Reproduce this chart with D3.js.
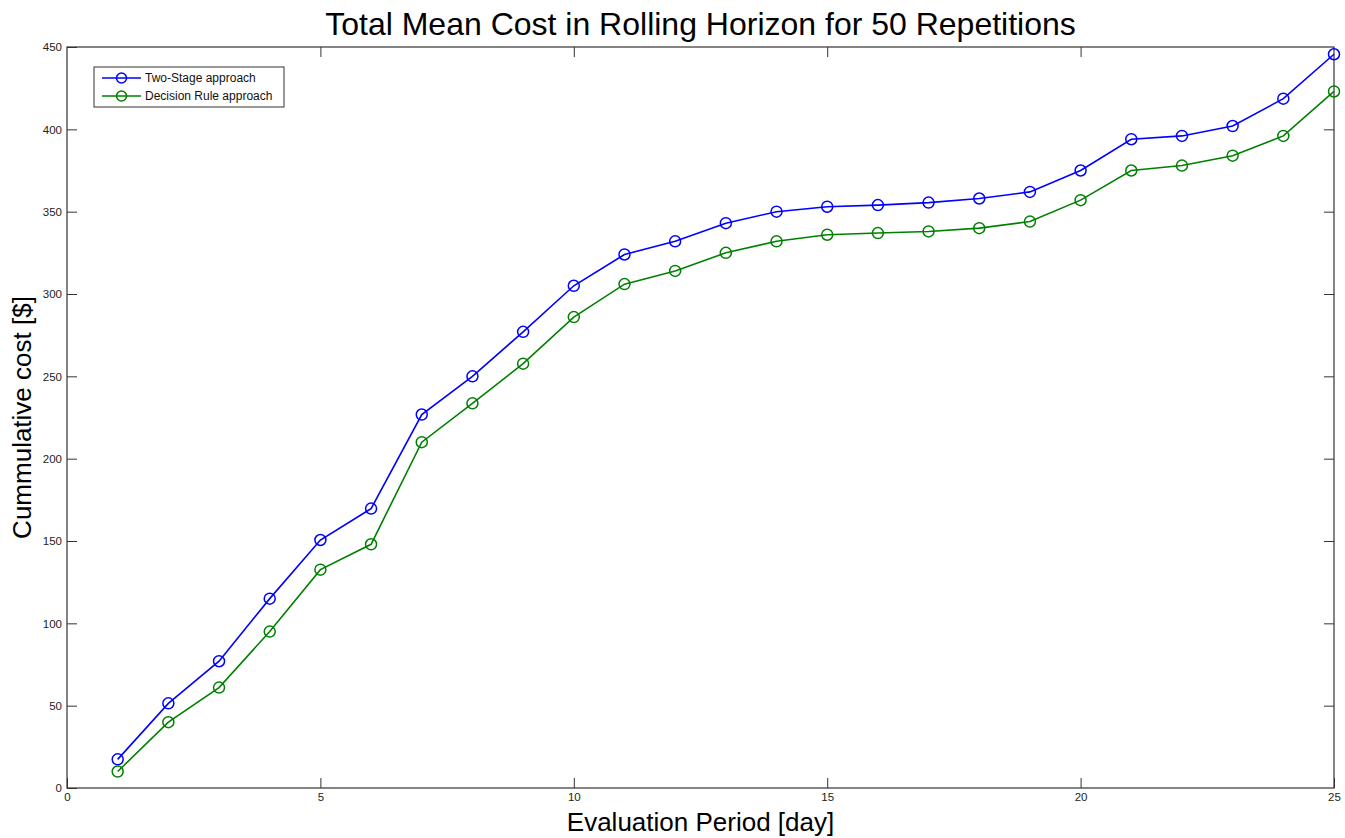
<!DOCTYPE html>
<html>
<head>
<meta charset="utf-8">
<script src="https://cdn.jsdelivr.net/npm/d3@7"></script>
<style>
  body { margin: 0; background: #fff; }
  text { font-family: "Liberation Sans", Arial, sans-serif; }
</style>
</head>
<body>
<div id="chart"></div>
<script>
const width = 1345;
const height = 838;

// data
const days = [1,2,3,4,5,6,7,8,9,10,11,12,13,14,15,16,17,18,19,20,21,22,23,24,25];
const twoStage = [17.4,51.4,77,115,150.6,169.7,226.8,250,277,305,324,332,343,350,353,354,355.5,358,362,375,394,396,402,418.6,445.6];
const decisionRule = [10,40,61,95,132.6,148,210,233.6,257.7,286,306,314,325,332,336,337,338,340,344,357,375,378,384,396,423];
const xTicks = [0,5,10,15,20,25];
const yTicks = [0,50,100,150,200,250,300,350,400,450];

var margins = {top: 47, bottom: 50, left: 67, right: 11};
var svg = d3.select("#chart").append("svg")
    .attr("width", width).attr("height", height);

var x = d3.scaleLinear().domain([0, 25]).range([margins.left, width - margins.right]);
var y = d3.scaleLinear().domain([0, 450]).range([height - margins.bottom, margins.top]);

var axisColor = "#333";
var tickLen = 10;

// box + ticks
function styleAxis(g) {
    g.select(".domain").remove();
    g.selectAll(".tick line").attr("stroke", axisColor);
    g.selectAll(".tick text").attr("fill", "#222").style("font-size", "11.5px")
        .style("font-family", "'Liberation Sans', Arial, sans-serif");
}

svg.append("g")
    .attr("transform", "translate(0," + y(0) + ")")
    .call(d3.axisBottom(x).tickValues(xTicks).tickSizeInner(-tickLen).tickSizeOuter(0).tickPadding(5))
    .call(styleAxis);
svg.append("g")
    .attr("transform", "translate(0," + y(450) + ")")
    .call(d3.axisTop(x).tickValues(xTicks.slice(1, -1)).tickSizeInner(-tickLen).tickSizeOuter(0).tickFormat(""))
    .call(styleAxis);
svg.append("g")
    .attr("transform", "translate(" + x(0) + ",0)")
    .call(d3.axisLeft(y).tickValues(yTicks).tickSizeInner(-tickLen).tickSizeOuter(0).tickPadding(5))
    .call(styleAxis);
svg.append("g")
    .attr("transform", "translate(" + x(25) + ",0)")
    .call(d3.axisRight(y).tickValues(yTicks.slice(1, -1)).tickSizeInner(-tickLen).tickSizeOuter(0).tickFormat(""))
    .call(styleAxis);

svg.append("rect")
    .attr("x", x(0)).attr("y", y(450))
    .attr("width", x(25) - x(0)).attr("height", y(0) - y(450))
    .attr("fill", "none").attr("stroke", axisColor).attr("stroke-width", 1.2);

// series
var series = [
    {name: "Two-Stage approach", values: twoStage, color: "#0000ff"},
    {name: "Decision Rule approach", values: decisionRule, color: "#008000"}
];

var line = d3.line()
    .x(function (d, i) { return x(days[i]); })
    .y(function (d) { return y(d); });

series.forEach(function (s) {
    svg.append("path")
        .datum(s.values)
        .attr("d", line)
        .attr("fill", "none")
        .attr("stroke", s.color)
        .attr("stroke-width", 1.6);

    svg.append("g")
        .selectAll("circle")
        .data(s.values)
        .enter()
        .append("circle")
        .attr("cx", function (d, i) { return x(days[i]); })
        .attr("cy", function (d) { return y(d); })
        .attr("r", 5.5)
        .attr("fill", "none")
        .attr("stroke", s.color)
        .attr("stroke-width", 1.5);
});

// legend
var legend = svg.append("g").attr("transform", "translate(94,67)");
legend.append("rect")
    .attr("width", 190).attr("height", 40)
    .attr("fill", "#fff").attr("stroke", "#333").attr("stroke-width", 1);
series.forEach(function (s, i) {
    var ly = 11 + i * 18;
    legend.append("line")
        .attr("x1", 8).attr("x2", 47).attr("y1", ly).attr("y2", ly)
        .attr("stroke", s.color).attr("stroke-width", 1.6);
    legend.append("circle")
        .attr("cx", 27.5).attr("cy", ly).attr("r", 5)
        .attr("fill", "none").attr("stroke", s.color).attr("stroke-width", 1.5);
    legend.append("text")
        .attr("x", 51).attr("y", ly + 4)
        .style("font-size", "12px").attr("fill", "#111")
        .text(s.name);
});

// titles
svg.append("text")
    .attr("x", (x(0) + x(25)) / 2).attr("y", 35)
    .attr("text-anchor", "middle")
    .style("font-size", "32px").attr("fill", "#000")
    .text("Total Mean Cost in Rolling Horizon for 50 Repetitions");

svg.append("text")
    .attr("x", (x(0) + x(25)) / 2).attr("y", 831)
    .attr("text-anchor", "middle")
    .style("font-size", "26px").attr("fill", "#000")
    .text("Evaluation Period [day]");

svg.append("text")
    .attr("transform", "translate(31," + (y(0) + y(450)) / 2 + ") rotate(-90)")
    .attr("text-anchor", "middle")
    .style("font-size", "26px").attr("fill", "#000")
    .text("Cummulative cost [$]");
</script>
</body>
</html>
